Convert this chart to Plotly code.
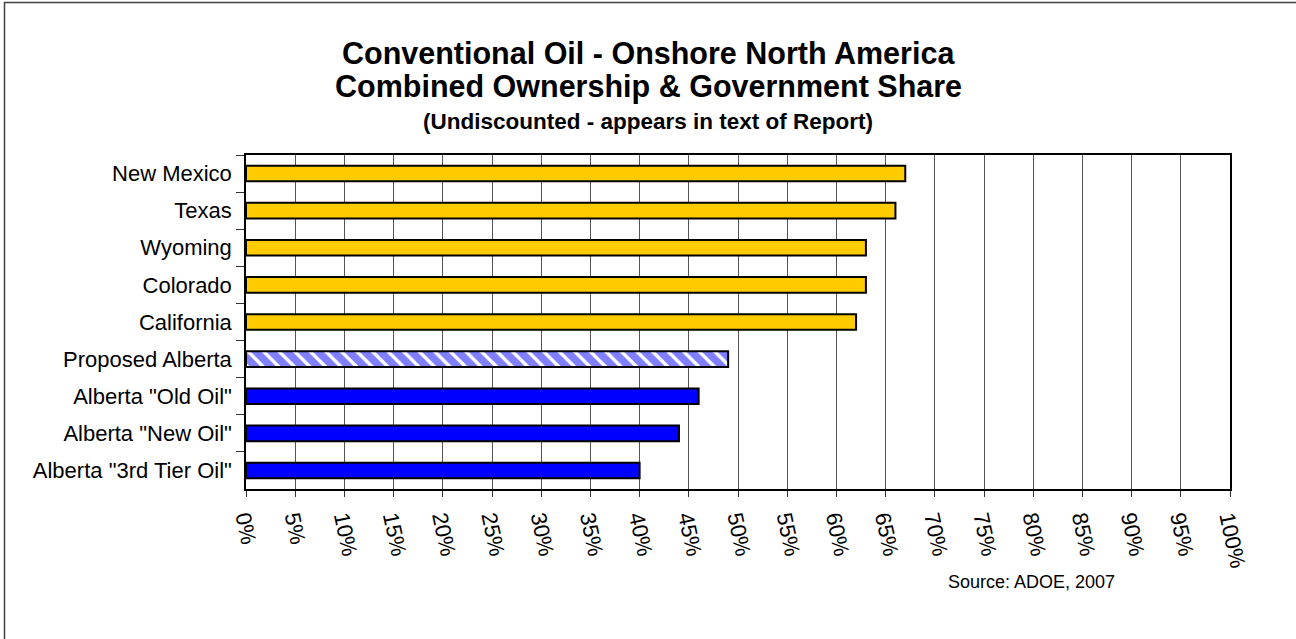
import plotly.graph_objects as go

categories = ["New Mexico", "Texas", "Wyoming", "Colorado", "California",
              "Proposed Alberta", 'Alberta "Old Oil"', 'Alberta "New Oil"',
              'Alberta "3rd Tier Oil"']
values = [67, 66, 63, 63, 62, 49, 46, 44, 40]
groups = ["us"] * 5 + ["proposed"] + ["alberta"] * 3
tick_vals = list(range(0, 101, 5))
tick_text = [f"{v}%" for v in tick_vals]

title1 = "Conventional Oil - Onshore North America"
title2 = "Combined Ownership & Government Share"
title3 = "(Undiscounted - appears in text of Report)"
source = "Source: ADOE, 2007"

W, H = 1296, 639
ML, MR, MT, MB = 246, 66, 155, 150
PW, PH = W - ML - MR, H - MT - MB

def px_x(p):
    return (p - ML) / PW

def px_y(p):
    return 1 - (p - MT) / PH

FONT = "Liberation Sans, Arial, sans-serif"

styles = {
    "us": dict(color="#FFCC00"),
    "proposed": dict(color="#FFFFFF",
                     pattern=dict(shape="\\", fgcolor="#0000FF", bgcolor="#FFFFFF",
                                  size=11, solidity=0.7)),
    "alberta": dict(color="#0000FF"),
}

fig = go.Figure()
for g, st in styles.items():
    xs = [v for v, gg in zip(values, groups) if gg == g]
    ys = [c for c, gg in zip(categories, groups) if gg == g]
    fig.add_trace(go.Bar(
        x=xs, y=ys, orientation="h", width=0.42, name=g,
        marker=dict(line=dict(color="black", width=2), **st),
        hoverinfo="x+y",
    ))

fig.update_layout(
    width=W, height=H, margin=dict(l=ML, r=MR, t=MT, b=MB),
    paper_bgcolor="white", plot_bgcolor="white", showlegend=False,
    font=dict(family=FONT, color="black"),
    barmode="overlay",
)
fig.update_xaxes(
    range=[0, 100], tickvals=tick_vals, ticktext=tick_text, tickangle=78,
    tickfont=dict(size=22), showgrid=True, gridcolor="#555555", gridwidth=1,
    showline=True, linecolor="black", linewidth=1.5, mirror=True,
    ticks="outside", ticklen=6, tickcolor="#333333", zeroline=False,
)
fig.update_yaxes(
    categoryorder="array", categoryarray=categories,
    autorange="reversed", tickson="boundaries", ticks="outside", ticklen=8,
    tickcolor="#333333", tickfont=dict(size=22), showgrid=False,
    ticklabelstandoff=8,
    showline=True, linecolor="black", linewidth=1.5, mirror=True,
)

cx = px_x(648)
fig.add_annotation(text=f"<b>{title1}</b>", x=cx, y=px_y(53), xref="paper", yref="paper",
                   showarrow=False, xanchor="center", yanchor="middle",
                   font=dict(size=30.5, family=FONT))
fig.add_annotation(text=f"<b>{title2}</b>", x=cx, y=px_y(86), xref="paper", yref="paper",
                   showarrow=False, xanchor="center", yanchor="middle",
                   font=dict(size=30.5, family=FONT))
fig.add_annotation(text=f"<b>{title3}</b>", x=cx, y=px_y(121), xref="paper", yref="paper",
                   showarrow=False, xanchor="center", yanchor="middle",
                   font=dict(size=22.5, family=FONT))
fig.add_annotation(text=source, x=px_x(1031), y=px_y(582), xref="paper", yref="paper",
                   showarrow=False, xanchor="center", yanchor="middle",
                   font=dict(size=18, family=FONT))

fig.add_shape(type="rect", xref="paper", yref="paper",
              x0=px_x(4.5), x1=px_x(W + 20), y0=px_y(H + 20), y1=px_y(2.5),
              line=dict(color="#404040", width=1.5), fillcolor="rgba(0,0,0,0)",
              layer="below")

fig.write_html("out.html")
